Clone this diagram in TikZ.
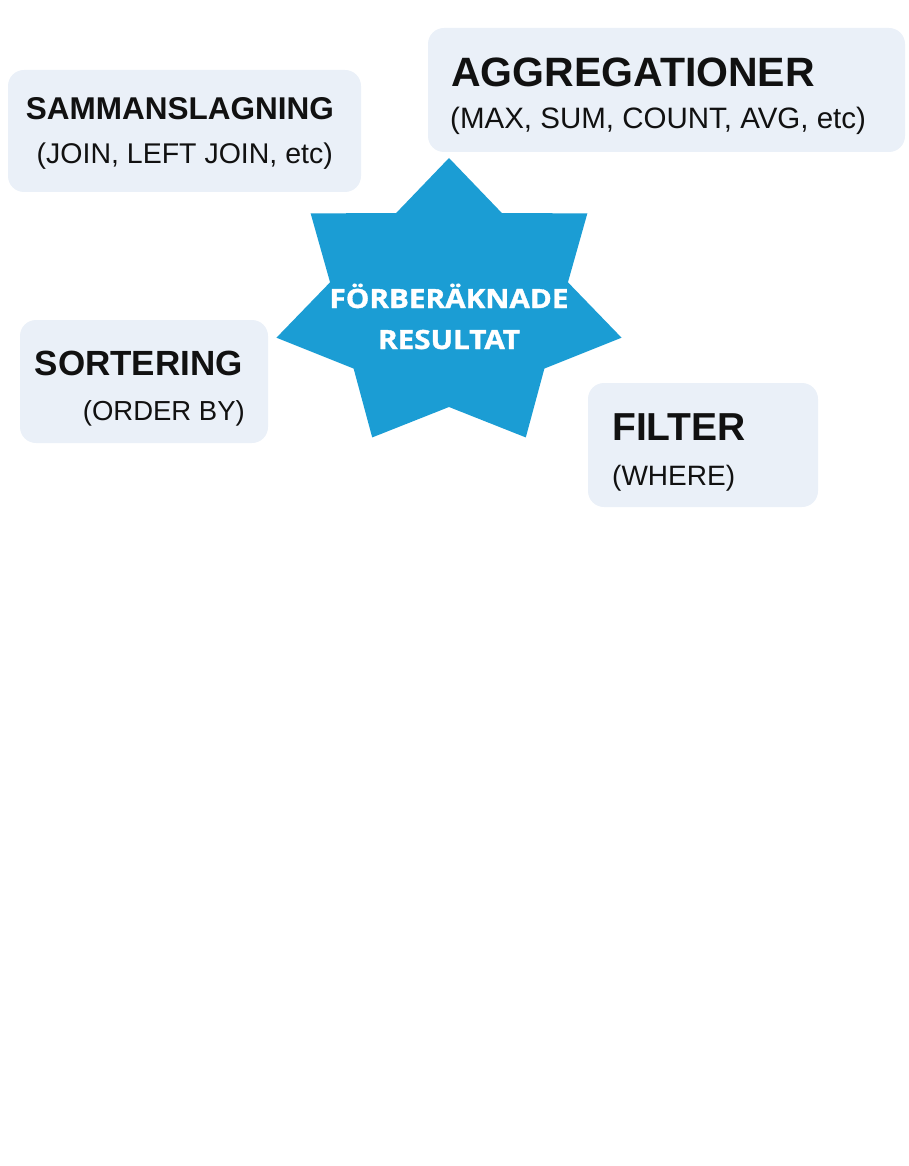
\documentclass[tikz,border=0pt]{standalone}
\usepackage{fontspec}
\setmainfont{Liberation Sans}
\newfontfamily\starfont{Open Sans}[FakeStretch=1.12,BoldFeatures={FakeBold=1.3}]
\definecolor{boxbg}{RGB}{234,240,248}
\definecolor{starblue}{RGB}{27,157,212}
\definecolor{ink}{RGB}{17,17,17}

\begin{document}
\begin{tikzpicture}[x=1pt,y=1pt,
  box/.style={fill=boxbg,rounded corners=16pt},
  txt/.style={inner sep=0pt,text=ink}]
\useasboundingbox (0,0) rectangle (908,-1166);
\coordinate (O) at (449,-305);

% boxes
\fill[box] (8,-70) rectangle (361,-192);
\fill[box] (428,-28) rectangle (905,-152);
\fill[box] (20,-320) rectangle (268,-443);
\fill[box] (588,-383) rectangle (818,-507);

% seven-pointed star
\fill[starblue,shift={(O)}] (90:177pt and 147pt)
  \foreach \k in {0,...,6} {
    -- ({90+\k*360/7+180/7}:122pt and 102pt)
    -- ({90+(\k+1)*360/7}:177pt and 147pt)
  } -- cycle;

\node (pre1) at (449,-308) [txt,anchor=base,text=white] {\starfont\bfseries\fontsize{26.5}{30}\selectfont FÖRBERÄKNADE};
\node (pre2) at (449,-349) [txt,anchor=base,text=white] {\starfont\bfseries\fontsize{26.5}{30}\selectfont RESULTAT};

\node (join1) at (334,-120) [txt,anchor=base east] {\bfseries\fontsize{31.5}{36}\selectfont SAMMANSLAGNING};
\node (join2) at (333,-164) [txt,anchor=base east] {\fontsize{28.5}{32}\selectfont (JOIN, LEFT JOIN, etc)};

\node (agg1) at (451,-87) [txt,anchor=base west] {\bfseries\fontsize{41}{48}\selectfont AGGREGATIONER};
\node (agg2) at (450,-129) [txt,anchor=base west] {\fontsize{29.5}{34}\selectfont (MAX, SUM, COUNT, AVG, etc)};

\node (sort1) at (243,-375) [txt,anchor=base east] {\bfseries\fontsize{35}{40}\selectfont SORTERING};
\node (sort2) at (245,-420) [txt,anchor=base east] {\fontsize{27.5}{32}\selectfont (ORDER BY)};

\node (filt1) at (612,-440) [txt,anchor=base west] {\bfseries\fontsize{39}{45}\selectfont FILTER};
\node (filt2) at (612,-485) [txt,anchor=base west] {\fontsize{28}{32}\selectfont (WHERE)};

\end{tikzpicture}
\end{document}
